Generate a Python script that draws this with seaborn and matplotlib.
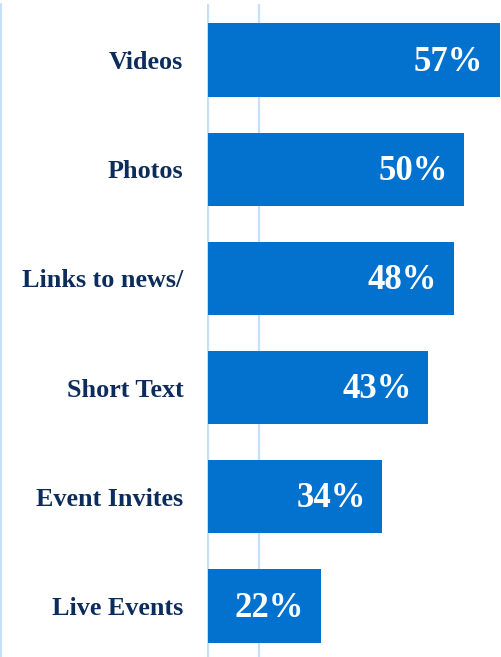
import matplotlib
matplotlib.use("Agg")
import matplotlib.pyplot as plt
from matplotlib.lines import Line2D
import seaborn as sns
import pandas as pd

categories = ["Videos", "Photos", "Links to news/", "Short Text", "Event Invites", "Live Events"]
shares = [57, 50, 48, 43, 34, 22]

BAR_COLOR = "#0371ce"
LABEL_COLOR = "#0c2d5c"
GRID_COLOR = "#c6e0fb"

sns.set_theme(style="white")
plt.rcParams["font.family"] = ["Liberation Serif", "DejaVu Serif"]

df = pd.DataFrame({"category": categories, "share": shares})

fig = plt.figure(figsize=(5.02, 6.57), dpi=100)
ax = fig.add_axes([207 / 502, 0, 295 / 502, 653 / 657])

# light vertical guides behind the bars
ax.axvline(-0.12, color=GRID_COLOR, lw=1.6, zorder=0)
ax.axvline(10, color=GRID_COLOR, lw=1.6, zorder=0)
fig.add_artist(Line2D([0.6 / 502, 0.6 / 502], [0, 653 / 657], color=GRID_COLOR,
                      lw=1.6, transform=fig.transFigure))

sns.barplot(data=df, x="share", y="category", orient="h", color=BAR_COLOR,
            saturation=1, width=0.67, ax=ax, zorder=2, edgecolor="none", linewidth=0)

ax.set_xlim(-0.25, 57.4)
ax.set_ylim(5.467, -0.512)
ax.set_xlabel("")
ax.set_ylabel("")
ax.set_xticks([])
for s in ax.spines.values():
    s.set_visible(False)

ax.tick_params(axis="y", length=0, pad=17)
for t in ax.get_yticklabels():
    t.set_fontsize(18.8)
    t.set_fontweight("bold")
    t.set_color(LABEL_COLOR)

# value labels inside the bar ends
for i, v in enumerate(shares):
    ax.annotate(f"{v}%", xy=(v, i), xytext=(-12, -1.5), textcoords="offset points",
                ha="right", va="center", color="white", fontsize=25,
                fontweight="bold", zorder=3)

fig.savefig("out.png", dpi=100)
